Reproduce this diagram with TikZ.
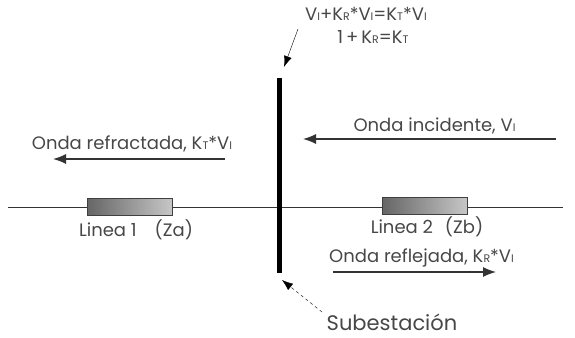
\documentclass[tikz,border=0pt]{standalone}
\usepackage{fontspec}
\setmainfont{Poppins}
\usetikzlibrary{arrows.meta, positioning, calc}
\newcommand{\lowidx}[1]{{\fontsize{11}{12}\selectfont #1}}

\begin{document}
\begin{tikzpicture}[
  x=1pt, y=-1pt,
  font=\fontsize{18}{23}\selectfont, text=black!72,
  linebox/.style={
    draw=black!75, left color=black!60, right color=black!22,
    minimum width=85pt, minimum height=17pt, inner sep=0pt
  },
  wave/.style={draw=black!80, line width=1.3pt, -{Latex[length=13pt,width=10pt]}},
  tag/.style={inner sep=1pt}
]
  \useasboundingbox (0,0) rectangle (575,337);
  % line and substation bar
  \coordinate (west) at (8,207);
  \coordinate (east) at (563,207);
  \coordinate (bartop) at (279.5,78);
  \coordinate (barbot) at (279.5,273);
  \draw[line width=0.9pt, black!80] (west) -- (east);
  \draw[line width=5.5pt] (bartop) -- (barbot);
  \node[linebox] (l1) at (130,207) {};
  \node[linebox] (l2) at (425,206) {};
  \node[tag, below=3pt of l1, xshift=6pt] (l1txt) {Linea 1\quad(Za)};
  \node[tag, below=1pt of l2, xshift=2pt] (l2txt) {Linea 2\enspace\,(Zb)};
  % waves
  \coordinate (inc0) at (556,139);
  \coordinate (inc1) at (303,139);
  \draw[wave] (inc0) -- (inc1);
  \node[tag, above=4pt, xshift=5pt] (inctxt) at ($(inc0)!0.5!(inc1)$) {Onda incidente, V\lowidx{I}};
  \coordinate (ref0) at (225,159);
  \coordinate (ref1) at (53,159);
  \draw[wave] (ref0) -- (ref1);
  \node[tag, above=6pt, xshift=-7pt] (reftxt) at ($(ref0)!0.5!(ref1)$) {Onda refractada, K\lowidx{T}*V\lowidx{I}};
  \coordinate (rfl0) at (333,272);
  \coordinate (rfl1) at (496,272);
  \draw[wave] (rfl0) -- (rfl1);
  \node[tag, above=4pt, xshift=7pt] (rfltxt) at ($(rfl0)!0.5!(rfl1)$) {Onda reflejada, K\lowidx{R}*V\lowidx{I}};
  % equation and substation labels
  \node[tag, align=center] (eq) at (366,25) {V\lowidx{I}+K\lowidx{R}*V\lowidx{I}=K\lowidx{T}*V\lowidx{I}\\\hspace*{14pt}1\,+\,K\lowidx{R}=K\lowidx{T}};
  \coordinate (eqtail) at (298,29);
  \coordinate (eqtip) at (284,67);
  \draw[thin, -{Latex[length=11pt,width=8pt]}] (eqtail) -- (eqtip);
  \node[tag, font=\fontsize{21}{24}\selectfont] (sub) at (392,322) {Subestación};
  \coordinate (subtail) at (322,312);
  \coordinate (subtip) at (282,280);
  \draw[thin, dashed, -{Latex[length=11pt,width=8pt]}] (subtail) -- (subtip);
\end{tikzpicture}
\end{document}
